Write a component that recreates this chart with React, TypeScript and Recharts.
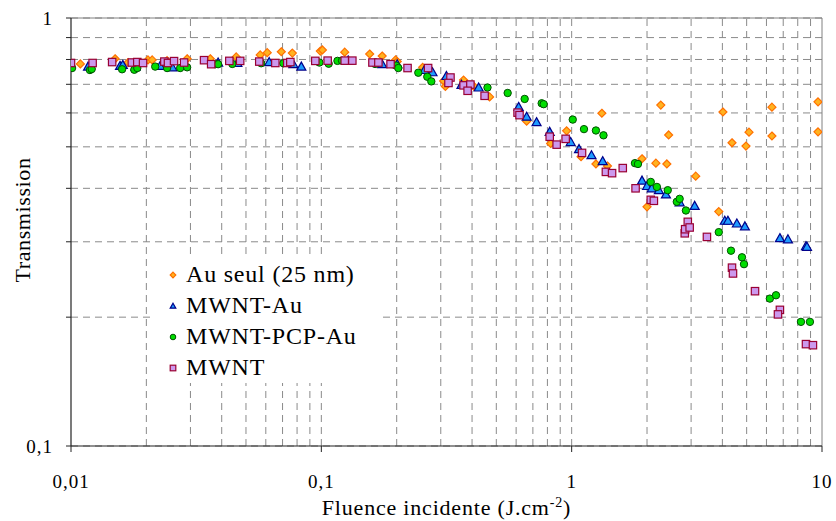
import React from 'react';
import {
  ScatterChart, Scatter, XAxis, YAxis, CartesianGrid, ReferenceLine, Legend, Label,
} from 'recharts';

// fluence (J/cm2), transmission
const auSeul: [number, number][] = [
  [0.0109, 0.781], [0.015, 0.803], [0.0169, 0.787], [0.0203, 0.798], [0.0211, 0.798],
  [0.0242, 0.795], [0.0291, 0.803], [0.036, 0.803], [0.0457, 0.811], [0.057, 0.82],
  [0.0608, 0.83], [0.0692, 0.834], [0.0766, 0.828], [0.0991, 0.837], [0.101, 0.842],
  [0.124, 0.832], [0.156, 0.824], [0.175, 0.815], [0.198, 0.798], [0.201, 0.791],
  [0.254, 0.767], [0.308, 0.713], [0.313, 0.692], [0.37, 0.716], [0.406, 0.693],
  [0.47, 0.654], [0.661, 0.574], [0.824, 0.509], [0.955, 0.545], [1.09, 0.474],
  [1.25, 0.456], [1.32, 0.599], [1.39, 0.451], [1.91, 0.469], [2.0, 0.362],
  [2.17, 0.458], [2.27, 0.626], [2.4, 0.456], [2.44, 0.533], [3.13, 0.427],
  [3.87, 0.353], [4.02, 0.603], [4.37, 0.511], [4.97, 0.502], [5.11, 0.541],
  [6.31, 0.53], [6.31, 0.619], [9.64, 0.637], [9.64, 0.542],
];

const mwntAu: [number, number][] = [
  [0.0117, 0.77], [0.0157, 0.773], [0.0161, 0.777], [0.0181, 0.77], [0.0227, 0.773],
  [0.0254, 0.767], [0.0387, 0.787], [0.0462, 0.785], [0.0619, 0.789], [0.0773, 0.78],
  [0.0832, 0.77], [0.128, 0.796], [0.175, 0.78], [0.201, 0.78], [0.258, 0.756],
  [0.278, 0.747], [0.316, 0.732], [0.363, 0.698], [0.425, 0.688], [0.614, 0.62],
  [0.661, 0.588], [0.724, 0.571], [0.817, 0.542], [0.991, 0.513], [1.07, 0.494],
  [1.2, 0.478], [1.33, 0.463], [1.91, 0.417], [2.0, 0.405], [2.09, 0.4],
  [2.23, 0.396], [2.38, 0.387], [2.7, 0.371], [3.1, 0.364], [4.09, 0.336],
  [4.21, 0.336], [4.57, 0.331], [4.92, 0.326], [6.79, 0.306], [7.31, 0.304],
  [8.63, 0.293], [8.71, 0.292],
];

const mwntPcpAu: [number, number][] = [
  [0.0101, 0.764], [0.0119, 0.756], [0.0121, 0.76], [0.016, 0.759], [0.0179, 0.757],
  [0.0184, 0.764], [0.0217, 0.77], [0.0242, 0.764], [0.0273, 0.764], [0.0291, 0.767],
  [0.0377, 0.78], [0.0387, 0.78], [0.0441, 0.781], [0.0575, 0.784], [0.0705, 0.784],
  [0.0982, 0.787], [0.107, 0.782], [0.116, 0.794], [0.121, 0.795], [0.164, 0.781],
  [0.199, 0.774], [0.203, 0.764], [0.244, 0.745], [0.265, 0.729], [0.275, 0.711],
  [0.461, 0.688], [0.555, 0.668], [0.649, 0.647], [0.759, 0.632], [0.773, 0.629],
  [1.01, 0.579], [1.12, 0.55], [1.25, 0.546], [1.34, 0.532], [1.79, 0.458],
  [1.84, 0.456], [2.07, 0.414], [2.19, 0.403], [2.42, 0.396], [2.63, 0.372],
  [2.7, 0.378], [2.86, 0.355], [3.87, 0.316], [4.33, 0.286], [4.79, 0.276],
  [4.88, 0.266], [6.19, 0.221], [6.55, 0.225], [8.24, 0.195], [8.95, 0.195],
];

const mwnt: [number, number][] = [
  [0.01, 0.785], [0.0122, 0.785], [0.0146, 0.789], [0.0175, 0.787], [0.0184, 0.789],
  [0.0194, 0.785], [0.0236, 0.791], [0.0244, 0.785], [0.0258, 0.793], [0.0283, 0.787],
  [0.034, 0.797], [0.0363, 0.78], [0.0429, 0.794], [0.0474, 0.794], [0.0565, 0.791],
  [0.0655, 0.785], [0.0731, 0.785], [0.0752, 0.789], [0.0946, 0.794], [0.106, 0.795],
  [0.124, 0.795], [0.133, 0.795], [0.16, 0.787], [0.169, 0.787], [0.189, 0.78],
  [0.221, 0.764], [0.267, 0.764], [0.328, 0.726], [0.322, 0.705], [0.37, 0.696],
  [0.394, 0.699], [0.384, 0.676], [0.449, 0.658], [0.608, 0.601], [0.619, 0.593],
  [0.817, 0.528], [0.871, 0.506], [0.946, 0.522], [1.1, 0.484], [1.37, 0.437],
  [1.45, 0.434], [1.6, 0.446], [1.8, 0.4], [2.07, 0.376], [2.13, 0.374],
  [2.83, 0.314], [2.84, 0.321], [2.91, 0.334], [2.96, 0.324], [3.47, 0.308],
  [4.37, 0.261], [4.41, 0.253], [5.4, 0.23], [6.79, 0.208], [6.67, 0.203],
  [8.63, 0.173], [9.2, 0.172],
];

const xTicks = [0.01, 0.1, 1, 10];
const yTicks = [0.1, 0.2, 0.3, 0.4, 0.5, 0.6, 0.7, 0.8, 0.9, 1];
const xGrid = [
  0.02, 0.03, 0.04, 0.05, 0.06, 0.07, 0.08, 0.09, 0.1,
  0.2, 0.3, 0.4, 0.5, 0.6, 0.7, 0.8, 0.9, 1,
  2, 3, 4, 5, 6, 7, 8, 9,
];

const FONT = '"Liberation Serif", "Times New Roman", serif';
const GRID = '#8a8a8a';

const toPoints = (arr: [number, number][]) => arr.map(([x, y]) => ({ x, y }));

const Diamond = ({ cx, cy, r = 4 }: any) => (
  <path d={`M${cx},${cy - r}L${cx + r},${cy}L${cx},${cy + r}L${cx - r},${cy}Z`}
    fill="#ffb320" stroke="#ff7000" strokeWidth={1.2} />
);
const Triangle = ({ cx, cy, r = 4.5 }: any) => (
  <path d={`M${cx},${cy - r}L${cx + r},${cy + r * 0.78}L${cx - r},${cy + r * 0.78}Z`}
    fill="#1e9bff" stroke="#00008b" strokeWidth={1.2} />
);
const Dot = ({ cx, cy, r = 3.7 }: any) => (
  <circle cx={cx} cy={cy} r={r} fill="#00dd00" stroke="#005000" strokeWidth={1} />
);
const Square = ({ cx, cy, r = 3.7 }: any) => (
  <rect x={cx - r} y={cy - r} width={r * 2} height={r * 2}
    fill="#cc99ee" stroke="#990033" strokeWidth={1.2} />
);

const series = [
  { name: 'Au seul (25 nm)', data: auSeul, Shape: Diamond },
  { name: 'MWNT-Au', data: mwntAu, Shape: Triangle },
  { name: 'MWNT-PCP-Au', data: mwntPcpAu, Shape: Dot },
  { name: 'MWNT', data: mwnt, Shape: Square },
];

function LegendBox() {
  return (
    <div style={{ background: '#fff', padding: '2px 0 0 12px', fontFamily: FONT, fontSize: 24, letterSpacing: 0.8, color: '#000' }}>
      {series.map(({ name, Shape }) => (
        <div key={name} style={{ display: 'flex', alignItems: 'center', height: 31 }}>
          <svg width={12} height={12} style={{ marginRight: 7 }}>
            <Shape cx={6} cy={6} r={2.8} />
          </svg>
          <span>{name}</span>
        </div>
      ))}
    </div>
  );
}

export default function App() {
  return (
    <div style={{ position: 'absolute', left: 0, top: 0, background: '#fff' }}>
      <ScatterChart width={836} height={521} margin={{ top: 18, right: 14, left: 0, bottom: 0 }}>
        <CartesianGrid vertical={false} stroke={GRID} strokeDasharray="7 5" />
        {xGrid.map((v) => (
          <ReferenceLine key={v} x={v} stroke={GRID} strokeDasharray="7 5" />
        ))}
        <ReferenceLine y={1} stroke="#808080" />
        <ReferenceLine x={10} stroke="#808080" />
        <XAxis
          type="number" dataKey="x" scale="log" domain={[0.01, 10]} allowDataOverflow
          ticks={xTicks} tickFormatter={(v: number) => String(v).replace('.', ',')}
          height={75} tickSize={6} tickMargin={23}
          axisLine={{ stroke: '#222', strokeWidth: 1.2 }} tickLine={{ stroke: '#222' }}
          tick={{ fill: '#000', fontFamily: FONT, fontSize: 19, letterSpacing: 1 }}
        >
          <Label
            content={({ viewBox }: any) => (
              <text x={viewBox.x + viewBox.width / 2} y={viewBox.y + viewBox.height - 6} textAnchor="middle"
                fontFamily={FONT} fontSize={22} letterSpacing={0.8} fill="#000">
                Fluence incidente (J.cm<tspan dy={-8} fontSize={14}>-2</tspan><tspan dy={8}>)</tspan>
              </text>
            )}
          />
        </XAxis>
        <YAxis
          type="number" dataKey="y" scale="log" domain={[0.1, 1]} allowDataOverflow
          ticks={yTicks} tickFormatter={(v: number) => (v === 1 ? '1' : v === 0.1 ? '0,1' : '')}
          width={71} tickSize={5} tickMargin={13}
          axisLine={{ stroke: '#222', strokeWidth: 1.2 }} tickLine={{ stroke: '#222' }}
          tick={{ fill: '#000', fontFamily: FONT, fontSize: 19, letterSpacing: 1 }}
        >
          <Label
            content={({ viewBox }: any) => {
              const x = viewBox.x + 22;
              const y = viewBox.y + viewBox.height / 2 - 12;
              return (
                <text x={x} y={y} transform={`rotate(-90, ${x}, ${y})`} textAnchor="middle"
                  dominantBaseline="central" fontFamily={FONT} fontSize={22} letterSpacing={0.6} fill="#000">
                  Transmission
                </text>
              );
            }}
          />
        </YAxis>
        <Legend
          layout="vertical" align="center" verticalAlign="middle"
          wrapperStyle={{ left: 155, top: 257, width: 224, height: 128 }}
          content={() => <LegendBox />}
        />
        {series.map(({ name, data, Shape }) => (
          <Scatter key={name} name={name} data={toPoints(data)} shape={(p: any) => <Shape cx={p.cx} cy={p.cy} />}
            isAnimationActive={false} />
        ))}
      </ScatterChart>
    </div>
  );
}
